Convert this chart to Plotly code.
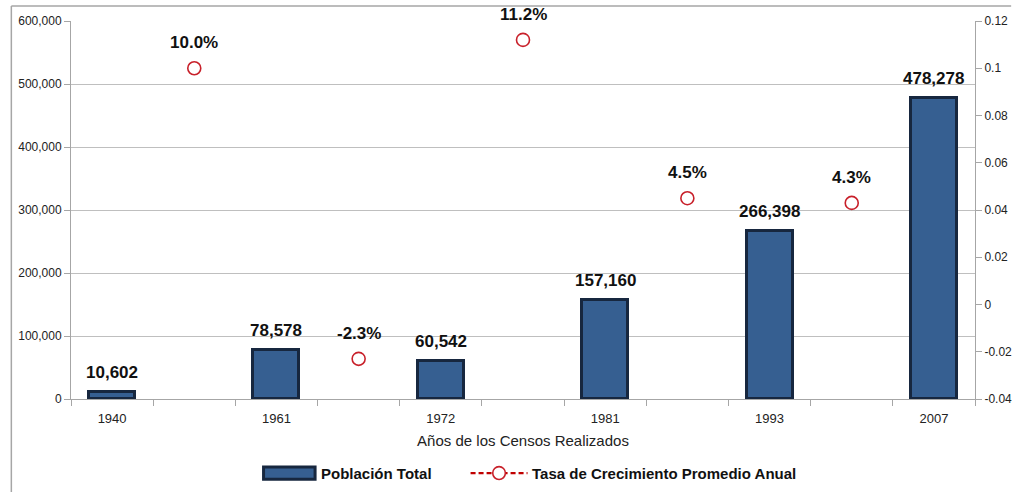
import plotly.graph_objects as go

# census years and total population
years = ["1940", "1961", "1972", "1981", "1993", "2007"]
population = [10602, 78578, 60542, 157160, 266398, 478278]
pop_labels = ["10,602", "78,578", "60,542", "157,160", "266,398", "478,278"]

# average annual growth rate between consecutive censuses
growth = [0.100, -0.023, 0.112, 0.045, 0.043]
growth_labels = ["10.0%", "-2.3%", "11.2%", "4.5%", "4.3%"]

right_ticks = [-0.04, -0.02, 0, 0.02, 0.04, 0.06, 0.08, 0.1, 0.12]
right_labels = ["-0.04", "-0.02", "0", "0.02", "0.04", "0.06", "0.08", "0.1", "0.12"]

# bars sit on even slots, growth markers on the odd slots between them
bar_x = [2 * i for i in range(len(years))]
growth_x = [2 * i + 1 for i in range(len(growth))]

n_slots = 2 * len(years) - 1

font = "Liberation Sans, Arial, sans-serif"
bar_fill = "#365F91"
bar_edge = "#17273F"
red = "#C8202A"

fig = go.Figure()

fig.add_trace(go.Bar(
    x=bar_x,
    y=population,
    width=0.56,
    name="Población Total",
    marker=dict(color=bar_fill, line=dict(color=bar_edge, width=3)),
))

fig.add_trace(go.Scatter(
    x=growth_x,
    y=growth,
    yaxis="y2",
    mode="markers",
    name="Tasa de Crecimiento Promedio Anual",
    marker=dict(symbol="circle-open", size=13, color=red, line=dict(width=1.6)),
))

annotations = []
for x, y, t in zip(bar_x, population, pop_labels):
    annotations.append(dict(
        x=x, y=y, xref="x", yref="y", text=t, showarrow=False,
        yanchor="bottom", yshift=8,
        font=dict(family=font, size=17, color="#111111", weight="bold"),
    ))
for x, y, t in zip(growth_x, growth, growth_labels):
    annotations.append(dict(
        x=x, y=y, xref="x", yref="y2", text=t, showarrow=False,
        yanchor="bottom", yshift=14,
        font=dict(family=font, size=17, color="#111111", weight="bold"),
    ))

# hand-drawn legend (wide bar swatch, dashed line with open circle)
leg_y = -0.196
leg_font = dict(family=font, size=15, color="#111111", weight="bold")
annotations += [
    dict(x=0.274, y=leg_y, xref="paper", yref="paper", text="Población Total",
         showarrow=False, xanchor="left", yanchor="middle", font=leg_font),
    dict(x=0.508, y=leg_y, xref="paper", yref="paper",
         text="Tasa de Crecimiento Promedio Anual",
         showarrow=False, xanchor="left", yanchor="middle", font=leg_font),
]
legend_shapes = [
    dict(type="rect", xref="paper", yref="paper", x0=0.213, x1=0.270,
         y0=leg_y - 0.016, y1=leg_y + 0.016, fillcolor=bar_fill,
         line=dict(color=bar_edge, width=3)),
    dict(type="line", xref="paper", yref="paper", x0=0.442, x1=0.505,
         y0=leg_y, y1=leg_y, line=dict(color="#C00000", width=2.2, dash="5px,3px")),
    dict(type="circle", xref="paper", yref="paper", x0=0.4665, x1=0.4805,
         y0=leg_y - 0.017, y1=leg_y + 0.017, fillcolor="white",
         line=dict(color=red, width=1.6)),
]

fig.update_layout(
    width=1017,
    height=492,
    margin=dict(l=71, r=42, t=21, b=93),
    paper_bgcolor="white",
    plot_bgcolor="white",
    font=dict(family=font, size=12, color="#222222"),
    bargap=0,
    annotations=annotations,
    showlegend=False,
    xaxis=dict(
        range=[-0.5, n_slots - 0.5],
        tickmode="array",
        tickvals=bar_x,
        ticktext=years,
        ticks="",
        ticklabelstandoff=7,
        automargin=False,
        showgrid=False,
        showline=True,
        linecolor="#A6A6A6",
        linewidth=1,
        zeroline=False,
        tickfont=dict(size=13, color="#222222"),
        minor=dict(tickmode="linear", tick0=-0.5, dtick=1, ticks="outside",
                   ticklen=6, tickcolor="#A6A6A6", showgrid=False),
        title=dict(text="Años de los Censos Realizados",
                   font=dict(size=15, color="#222222"), standoff=10),
    ),
    yaxis=dict(
        range=[0, 600000],
        dtick=100000,
        tickformat=",d",
        automargin=False,
        showgrid=True,
        gridcolor="#BFBFBF",
        gridwidth=1,
        showline=True,
        linecolor="#A6A6A6",
        ticks="outside",
        ticklen=6,
        tickcolor="#A6A6A6",
        zeroline=False,
        tickfont=dict(size=12, color="#222222"),
    ),
    yaxis2=dict(
        range=[-0.04, 0.12],
        overlaying="y",
        side="right",
        tickmode="array",
        tickvals=right_ticks,
        ticktext=right_labels,
        automargin=False,
        showgrid=False,
        showline=True,
        linecolor="#A6A6A6",
        ticks="outside",
        ticklen=6,
        tickcolor="#A6A6A6",
        zeroline=False,
        tickfont=dict(size=12, color="#222222"),
    ),
    shapes=legend_shapes + [
        dict(type="line", xref="paper", yref="paper", x0=-0.066, x1=1.04,
             y0=1.04, y1=1.04, line=dict(color="#A6A6A6", width=1.5)),
        dict(type="line", xref="paper", yref="paper", x0=-0.066, x1=-0.066,
             y0=1.04, y1=-0.26, line=dict(color="#A6A6A6", width=1.5)),
    ],
)

fig.write_html("out.html", config={"displayModeBar": False},
               post_script="document.body.style.margin='0';")
